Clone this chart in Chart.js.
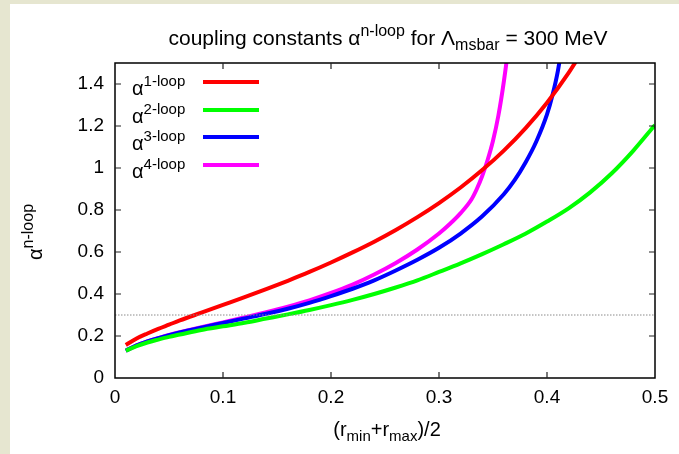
<!DOCTYPE html>
<html>
<head>
<meta charset="utf-8">
<script src="https://cdn.jsdelivr.net/npm/chart.js@4"></script>
<style>
  body { margin: 0; background: #e6e6d0; width: 679px; height: 454px; overflow: hidden; position: relative;
         font-family: "Liberation Sans", Arial, sans-serif; color: #000; }
  #box { position: absolute; left: 10px; top: 4px; width: 669px; height: 450px; background: #fff; }
  canvas { position: absolute; left: 0; top: 0; }
  .lab { position: absolute; font-size: 20px; white-space: nowrap; line-height: 1; }
  .up { font-size: 15px; position: relative; top: -9px; }
  .dn { font-size: 15px; position: relative; top: 5px; }
  #title { font-size: 21px; }
  #title .up, #title .dn, #ytitle .up { font-size: 16px; }
  .key { position: absolute; height: 4px; width: 56px; left: 193px; }
</style>
</head>
<body>
<div id="box">
  <canvas id="alphaChart" width="669" height="450"></canvas>
  <div class="lab" id="title" style="left:378px; top:23px; transform: translateX(-50%);">coupling constants &alpha;<span class="up">n-loop</span> for &Lambda;<span class="dn">msbar</span> = 300 MeV</div>
  <div class="lab" id="ytitle" style="left:25px; top:228px; transform: translate(-50%,-50%) rotate(-90deg);">&alpha;<span class="up">n-loop</span></div>
  <div class="lab" id="xtitle" style="left:377px; top:415px; transform: translateX(-50%);">(r<span class="dn">min</span>+r<span class="dn">max</span>)/2</div>
  <div id="legend"></div>
</div>
<script>
// x values: (r_min+r_max)/2
const xRed = [0.01, 0.02, 0.03, 0.04, 0.05, 0.06, 0.08, 0.10, 0.12, 0.14, 0.16, 0.18, 0.20, 0.22, 0.24, 0.26, 0.28, 0.30, 0.32, 0.34, 0.36, 0.38, 0.40, 0.42, 0.43]
const alpha1 = [0.157, 0.188, 0.212, 0.234, 0.254, 0.274, 0.311, 0.348, 0.385, 0.423, 0.463, 0.505, 0.550, 0.598, 0.649, 0.705, 0.766, 0.833, 0.907, 0.990, 1.083, 1.189, 1.311, 1.453, 1.534]

const xGreen = [0.01, 0.02, 0.03, 0.04, 0.05, 0.06, 0.08, 0.10, 0.12, 0.14, 0.16, 0.18, 0.20, 0.22, 0.24, 0.26, 0.28, 0.30, 0.32, 0.34, 0.36, 0.38, 0.40, 0.42, 0.44, 0.46, 0.48, 0.50]
const alpha2 = [0.130, 0.152, 0.169, 0.183, 0.196, 0.207, 0.229, 0.246, 0.263, 0.283, 0.303, 0.324, 0.347, 0.372, 0.400, 0.431, 0.465, 0.505, 0.546, 0.590, 0.637, 0.687, 0.745, 0.808, 0.884, 0.975, 1.083, 1.205]

const xBlue = [0.01, 0.02, 0.03, 0.04, 0.05, 0.06, 0.08, 0.10, 0.12, 0.14, 0.16, 0.18, 0.20, 0.22, 0.24, 0.26, 0.28, 0.30, 0.32, 0.34, 0.36, 0.37, 0.38, 0.39, 0.40, 0.405, 0.41, 0.415]
const alpha3 = [0.130, 0.155, 0.174, 0.190, 0.204, 0.217, 0.240, 0.262, 0.284, 0.306, 0.330, 0.358, 0.390, 0.425, 0.465, 0.512, 0.563, 0.620, 0.688, 0.770, 0.875, 0.942, 1.025, 1.125, 1.255, 1.345, 1.460, 1.620]

const xMagenta = [0.01, 0.02, 0.03, 0.04, 0.05, 0.06, 0.08, 0.10, 0.12, 0.14, 0.16, 0.18, 0.20, 0.22, 0.24, 0.26, 0.28, 0.30, 0.31, 0.32, 0.33, 0.335, 0.34, 0.345, 0.35, 0.355, 0.36, 0.365, 0.37]
const alpha4 = [0.130, 0.155, 0.174, 0.190, 0.205, 0.218, 0.242, 0.265, 0.288, 0.313, 0.340, 0.370, 0.405, 0.445, 0.493, 0.548, 0.612, 0.688, 0.733, 0.785, 0.850, 0.900, 0.962, 1.038, 1.130, 1.250, 1.410, 1.610, 1.860]

const refX = [0, 0.5]
const refY = [0.3, 0.3]

const seriesNames = ['1-loop', '2-loop', '3-loop', '4-loop']
const seriesColors = ['#ff0000', '#00ff00', '#0000ff', '#ff00ff']

const xTicks = [0, 0.1, 0.2, 0.3, 0.4, 0.5]
const yTicks = [0, 0.2, 0.4, 0.6, 0.8, 1, 1.2, 1.4]

function toPoints(xs, ys) {
  return xs.map((x, i) => ({ x: x, y: ys[i] }))
}

// gnuplot style frame with ticks on the inside
const framePlugin = {
  id: 'frame',
  afterDatasetsDraw(chart) {
    const { ctx, chartArea: a, scales } = chart
    ctx.save()
    ctx.strokeStyle = '#000'
    ctx.lineWidth = 1.5
    ctx.strokeRect(a.left, a.top, a.right - a.left, a.bottom - a.top)
    ctx.lineWidth = 1.2
    ctx.strokeStyle = '#222'
    ctx.beginPath()
    for (const t of scales.x.ticks) {
      const px = scales.x.getPixelForValue(t.value)
      if (px <= a.left + 1 || px >= a.right - 1) continue
      ctx.moveTo(px, a.bottom); ctx.lineTo(px, a.bottom - 6)
      ctx.moveTo(px, a.top); ctx.lineTo(px, a.top + 6)
    }
    for (const t of scales.y.ticks) {
      const py = scales.y.getPixelForValue(t.value)
      if (py >= a.bottom - 1 || py <= a.top + 1) continue
      ctx.moveTo(a.left, py); ctx.lineTo(a.left + 6, py)
      ctx.moveTo(a.right, py); ctx.lineTo(a.right - 6, py)
    }
    ctx.stroke()
    ctx.restore()
  }
}

function makeLegend() {
  const legend = document.getElementById('legend')
  seriesNames.forEach((name, i) => {
    const y = 78 + i * 27.7
    const txt = document.createElement('div')
    txt.className = 'lab'
    txt.style.left = '122px'
    txt.style.top = (y - 4) + 'px'
    txt.innerHTML = '&alpha;<span class="up">' + name + '</span>'
    legend.appendChild(txt)
    const key = document.createElement('div')
    key.className = 'key'
    key.style.top = (y - 2) + 'px'
    key.style.background = seriesColors[i]
    legend.appendChild(key)
  })
}

function createChart() {
  const lines = [
    toPoints(xRed, alpha1),
    toPoints(xGreen, alpha2),
    toPoints(xBlue, alpha3),
    toPoints(xMagenta, alpha4)
  ]

  const datasets = [{
    label: 'reference',
    data: toPoints(refX, refY),
    borderColor: '#8a8a8a',
    borderWidth: 1,
    borderDash: [1.5, 1.5],
    pointRadius: 0,
    showLine: true
  }]

  lines.forEach((pts, i) => {
    datasets.push({
      label: seriesNames[i],
      data: pts,
      borderColor: seriesColors[i],
      borderWidth: 4,
      pointRadius: 0,
      showLine: true,
      cubicInterpolationMode: 'monotone'
    })
  })

  const font = { family: '"Liberation Sans", Arial, sans-serif', size: 19 }
  const fmt = v => String(Math.round(v * 10) / 10)

  new Chart(document.getElementById('alphaChart'), {
    type: 'scatter',
    data: { datasets: datasets },
    options: {
      responsive: false,
      animation: false,
      layout: { padding: { top: 59, right: 24, bottom: 0, left: 0 } },
      plugins: { legend: { display: false }, tooltip: { enabled: false } },
      scales: {
        x: {
          type: 'linear', min: 0, max: 0.5,
          grid: { display: false, drawTicks: false },
          border: { display: false },
          afterBuildTicks: s => { s.ticks = xTicks.map(v => ({ value: v })) },
          afterFit: s => { s.height = 76 },
          ticks: { color: '#000', font: font, padding: 8, maxRotation: 0, callback: fmt }
        },
        y: {
          type: 'linear', min: 0, max: 1.5,
          grid: { display: false, drawTicks: false },
          border: { display: false },
          afterBuildTicks: s => { s.ticks = yTicks.map(v => ({ value: v })) },
          afterFit: s => { s.width = 105 },
          ticks: { color: '#000', font: font, padding: 11, callback: fmt }
        }
      }
    },
    plugins: [framePlugin]
  })
}

makeLegend()
createChart()
</script>
</body>
</html>
